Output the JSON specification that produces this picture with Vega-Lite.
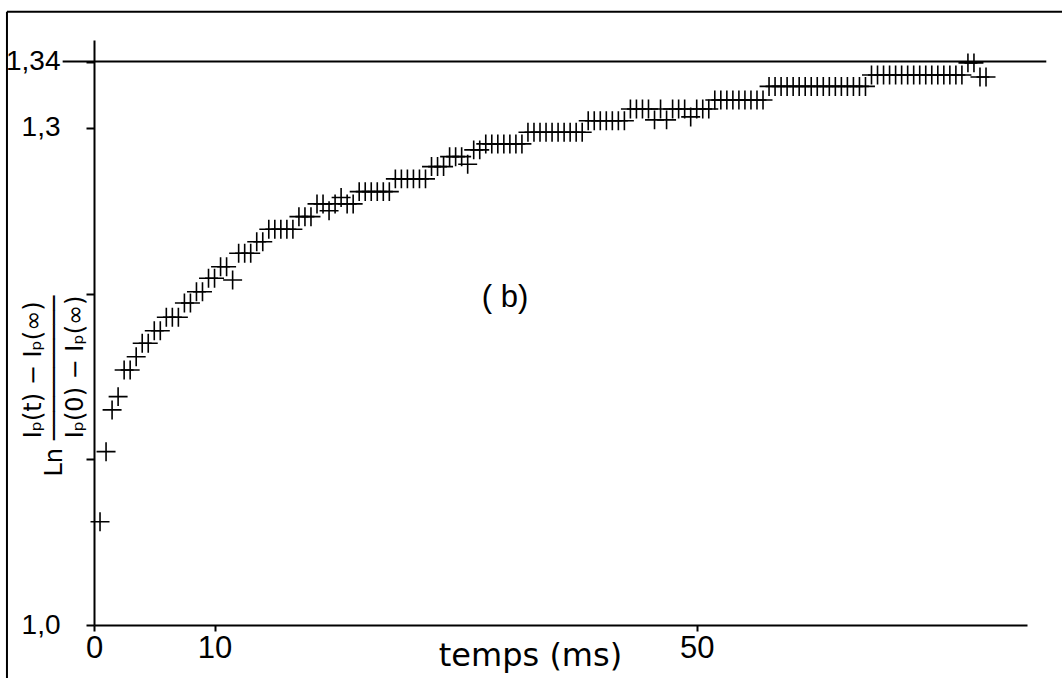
{
  "$schema": "https://vega.github.io/schema/vega-lite/v6.json",
  "autosize": {"type": "none"},
  "padding": {"left": 94, "top": 40, "right": 35, "bottom": 53},
  "width": 933,
  "height": 585,
  "background": "white",
  "config": {
    "view": {"stroke": null},
    "font": "Liberation Sans, DejaVu Sans, sans-serif",
    "axis": {"grid": false, "domainColor": "black", "domainWidth": 2, "tickColor": "black", "tickWidth": 2, "labelColor": "black", "titleColor": "black", "labelFont": "Liberation Sans, DejaVu Sans, sans-serif", "titleFont": "DejaVu Sans, sans-serif", "titleFontWeight": "normal"}
  },
  "datasets": {
    "pts": [
      {"t": 0.5, "v": 1.0623}, {"t": 1.0, "v": 1.1046}, {"t": 1.5, "v": 1.1298}, {"t": 2.0, "v": 1.1378},
      {"t": 2.5, "v": 1.1539}, {"t": 3.0, "v": 1.1539}, {"t": 3.5, "v": 1.1619}, {"t": 4.0, "v": 1.17},
      {"t": 4.5, "v": 1.17}, {"t": 5.0, "v": 1.1776}, {"t": 5.5, "v": 1.1776}, {"t": 6.0, "v": 1.1857},
      {"t": 6.5, "v": 1.1857}, {"t": 7.0, "v": 1.1857}, {"t": 7.5, "v": 1.1943}, {"t": 8.0, "v": 1.1943},
      {"t": 8.5, "v": 1.2011}, {"t": 9.0, "v": 1.2011}, {"t": 9.5, "v": 1.2092}, {"t": 10.0, "v": 1.2092},
      {"t": 10.5, "v": 1.2162}, {"t": 11.0, "v": 1.2162}, {"t": 11.5, "v": 1.2082}, {"t": 12.0, "v": 1.2243},
      {"t": 12.5, "v": 1.2243}, {"t": 13.0, "v": 1.2243}, {"t": 13.5, "v": 1.2313}, {"t": 14.0, "v": 1.2313},
      {"t": 14.5, "v": 1.2388}, {"t": 15.0, "v": 1.2388}, {"t": 15.5, "v": 1.2388}, {"t": 16.0, "v": 1.2388},
      {"t": 16.5, "v": 1.2388}, {"t": 17.0, "v": 1.2464}, {"t": 17.5, "v": 1.2464}, {"t": 18.0, "v": 1.2464},
      {"t": 18.5, "v": 1.2541}, {"t": 19.0, "v": 1.2541}, {"t": 19.5, "v": 1.25}, {"t": 20.0, "v": 1.2541},
      {"t": 20.5, "v": 1.258}, {"t": 21.0, "v": 1.2541}, {"t": 21.5, "v": 1.2541}, {"t": 22.0, "v": 1.2615},
      {"t": 22.5, "v": 1.2615}, {"t": 23.0, "v": 1.2615}, {"t": 23.5, "v": 1.2615}, {"t": 24.0, "v": 1.2615},
      {"t": 24.5, "v": 1.2615}, {"t": 25.0, "v": 1.2692}, {"t": 25.5, "v": 1.2692}, {"t": 26.0, "v": 1.2692},
      {"t": 26.5, "v": 1.2692}, {"t": 27.0, "v": 1.2692}, {"t": 27.5, "v": 1.2692}, {"t": 28.0, "v": 1.2766},
      {"t": 28.5, "v": 1.2766}, {"t": 29.0, "v": 1.2766}, {"t": 29.5, "v": 1.2826}, {"t": 30.0, "v": 1.2826},
      {"t": 30.5, "v": 1.2826}, {"t": 31.0, "v": 1.278}, {"t": 31.5, "v": 1.2867}, {"t": 32.0, "v": 1.2867},
      {"t": 32.5, "v": 1.2903}, {"t": 33.0, "v": 1.2903}, {"t": 33.5, "v": 1.2903}, {"t": 34.0, "v": 1.2903},
      {"t": 34.5, "v": 1.2903}, {"t": 35.0, "v": 1.2903}, {"t": 35.5, "v": 1.2903}, {"t": 36.0, "v": 1.2973},
      {"t": 36.5, "v": 1.2973}, {"t": 37.0, "v": 1.2973}, {"t": 37.5, "v": 1.2973}, {"t": 38.0, "v": 1.2973},
      {"t": 38.5, "v": 1.2973}, {"t": 39.0, "v": 1.2973}, {"t": 39.5, "v": 1.2973}, {"t": 40.0, "v": 1.2973},
      {"t": 40.5, "v": 1.2973}, {"t": 41.0, "v": 1.3043}, {"t": 41.5, "v": 1.3043}, {"t": 42.0, "v": 1.3043},
      {"t": 42.5, "v": 1.3043}, {"t": 43.0, "v": 1.3043}, {"t": 43.5, "v": 1.3043}, {"t": 44.0, "v": 1.3043},
      {"t": 44.5, "v": 1.3114}, {"t": 45.0, "v": 1.3114}, {"t": 45.5, "v": 1.3114}, {"t": 46.0, "v": 1.3114},
      {"t": 46.5, "v": 1.3048}, {"t": 47.0, "v": 1.3114}, {"t": 47.5, "v": 1.3048}, {"t": 48.0, "v": 1.3114},
      {"t": 48.5, "v": 1.3114}, {"t": 49.0, "v": 1.3114}, {"t": 49.5, "v": 1.3066}, {"t": 50.0, "v": 1.3114},
      {"t": 50.5, "v": 1.3114}, {"t": 51.0, "v": 1.3114}, {"t": 51.5, "v": 1.3168}, {"t": 52.0, "v": 1.3168},
      {"t": 52.5, "v": 1.3168}, {"t": 53.0, "v": 1.3168}, {"t": 53.5, "v": 1.3168}, {"t": 54.0, "v": 1.3168},
      {"t": 54.5, "v": 1.3168}, {"t": 55.0, "v": 1.3168}, {"t": 55.5, "v": 1.3168}, {"t": 56.0, "v": 1.325},
      {"t": 56.5, "v": 1.325}, {"t": 57.0, "v": 1.325}, {"t": 57.5, "v": 1.325}, {"t": 58.0, "v": 1.325},
      {"t": 58.5, "v": 1.325}, {"t": 59.0, "v": 1.325}, {"t": 59.5, "v": 1.325}, {"t": 60.0, "v": 1.325},
      {"t": 60.5, "v": 1.325}, {"t": 61.0, "v": 1.325}, {"t": 61.5, "v": 1.325}, {"t": 62.0, "v": 1.325},
      {"t": 62.5, "v": 1.325}, {"t": 63.0, "v": 1.325}, {"t": 63.5, "v": 1.325}, {"t": 64.0, "v": 1.325},
      {"t": 64.5, "v": 1.3319}, {"t": 65.0, "v": 1.3319}, {"t": 65.5, "v": 1.3319}, {"t": 66.0, "v": 1.3319},
      {"t": 66.5, "v": 1.3319}, {"t": 67.0, "v": 1.3319}, {"t": 67.5, "v": 1.3319}, {"t": 68.0, "v": 1.3319},
      {"t": 68.5, "v": 1.3319}, {"t": 69.0, "v": 1.3319}, {"t": 69.5, "v": 1.3319}, {"t": 70.0, "v": 1.3319},
      {"t": 70.5, "v": 1.3319}, {"t": 71.0, "v": 1.3319}, {"t": 71.5, "v": 1.3319}, {"t": 72.0, "v": 1.3319},
      {"t": 72.5, "v": 1.3392}, {"t": 73.0, "v": 1.3392}, {"t": 73.5, "v": 1.3307}, {"t": 74.0, "v": 1.3307}
    ],
    "one": [{}]
  },
  "layer": [
    {
      "data": {"name": "pts"},
      "mark": {"type": "point", "shape": "M-1,0L1,0M0,-1L0,1", "filled": false, "stroke": "black", "strokeWidth": 1.6, "size": 360, "opacity": 1, "clip": false},
      "encoding": {
        "x": {"field": "t", "type": "quantitative",
          "scale": {"domain": [0, 77.4], "nice": false, "zero": false},
          "axis": {"values": [0, 10, 50], "labelExpr": "datum.value", "tickSize": 6, "labelFontSize": 31, "labelPadding": 2, "labelFlush": false,
            "title": "temps (ms)", "titleFontSize": 32, "titleX": 436, "titleY": 30, "titleAlign": "center", "titleBaseline": "middle", "titleAnchor": null}},
        "y": {"field": "v", "type": "quantitative",
          "scale": {"domain": [1.0, 1.353], "nice": false, "zero": false},
          "axis": {"values": [1.0, 1.1, 1.2, 1.3, 1.34],
            "labelExpr": "datum.value == 1 ? '1,0' : datum.value == 1.3 ? '1,3' : datum.value == 1.34 ? '1,34' : ''",
            "tickSize": 8, "labelFontSize": 28, "labelPadding": 26, "labelFlush": false,
            "title": ["\u200b\u00a0\u00a0\u00a0\u00a0\u00a0Iₚ(t) − Iₚ(∞)", "Ln ──────────", "\u200b\u00a0\u00a0\u00a0\u00a0\u00a0Iₚ(0) − Iₚ(∞)"],
            "titleFontSize": 24, "titleLineHeight": 21, "titleAngle": -90, "titleAlign": "left", "titleBaseline": "middle",
            "titleX": -61, "titleY": 436, "titleAnchor": null}}
      }
    },
    {
      "data": {"name": "one"},
      "mark": {"type": "rule", "stroke": "black", "strokeWidth": 2, "clip": false},
      "encoding": {
        "x": {"datum": -2.6, "type": "quantitative"},
        "x2": {"datum": 79.0},
        "y": {"datum": 1.34, "type": "quantitative"}
      }
    },
    {
      "data": {"name": "one"},
      "mark": {"type": "rule", "stroke": "black", "strokeWidth": 2, "clip": false},
      "encoding": {
        "x": {"datum": -7.22, "type": "quantitative"},
        "x2": {"datum": 81.0},
        "y": {"datum": 1.37, "type": "quantitative"}
      }
    },
    {
      "data": {"name": "one"},
      "mark": {"type": "rule", "stroke": "black", "strokeWidth": 2, "clip": false},
      "encoding": {
        "x": {"datum": -7.22, "type": "quantitative"},
        "y": {"datum": 0.95, "type": "quantitative"},
        "y2": {"datum": 1.37}
      }
    },
    {
      "data": {"name": "one"},
      "mark": {"type": "text", "text": "( b)", "fontSize": 31, "color": "black", "align": "center", "baseline": "middle", "clip": false},
      "encoding": {
        "x": {"datum": 34.1, "type": "quantitative"},
        "y": {"datum": 1.1973, "type": "quantitative"}
      }
    }
  ]
}
